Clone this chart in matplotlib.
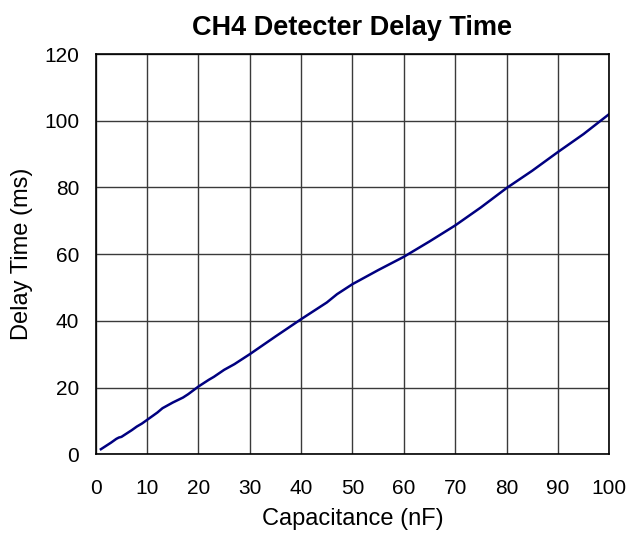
import matplotlib
matplotlib.use("Agg")
import matplotlib.pyplot as plt

capacitance = [1, 2, 3, 4, 4.5, 5, 6, 7, 8, 9, 10, 12, 13, 15, 17, 18, 20, 22, 23, 25, 27,
               30, 35, 40, 45, 47, 50, 55, 60, 65, 70, 75, 80, 85, 90, 95, 100]
delay = [1.5, 2.5, 3.5, 4.6, 5.0, 5.2, 6.2, 7.2, 8.3, 9.2, 10.3, 12.5, 13.8, 15.5, 17, 18,
         20.3, 22.3, 23.2, 25.3, 27, 30, 35.3, 40.5, 45.5, 48, 51, 55.2, 59.2, 63.8, 68.6,
         74, 79.8, 85, 90.6, 96, 102]
x_ticks = [0, 10, 20, 30, 40, 50, 60, 70, 80, 90, 100]
y_ticks = [0, 20, 40, 60, 80, 100, 120]

plt.rcParams['font.family'] = ['Liberation Sans', 'DejaVu Sans']

fig = plt.figure(figsize=(6.3, 5.35), dpi=100)
ax = fig.add_axes([0.152, 0.151, 0.815, 0.748])
ax.plot(capacitance, delay, color='#000080', lw=1.8)
ax.set_xlim(0, 100)
ax.set_ylim(0, 120)
ax.set_xticks(x_ticks)
ax.set_yticks(y_ticks)
ax.grid(True, color='#3a3a3a', lw=1)
ax.set_axisbelow(True)
ax.tick_params(length=0, labelsize=15)
ax.tick_params(axis='x', pad=18)
ax.tick_params(axis='y', pad=12)
for s in ax.spines.values():
    s.set_color('black')
    s.set_linewidth(1.2)
ax.set_title('CH4 Detecter Delay Time', fontsize=19.5, fontweight='bold', pad=14)
ax.set_xlabel('Capacitance (nF)', fontsize=17, labelpad=7)
ax.set_ylabel('Delay Time (ms)', fontsize=17, labelpad=8)
fig.savefig('out.png', dpi=100)
